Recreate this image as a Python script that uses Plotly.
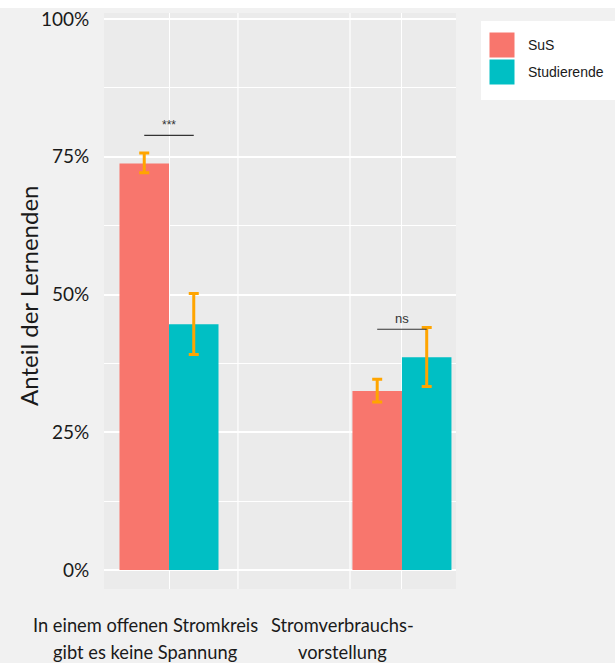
import plotly.graph_objects as go

# ---------------- data ----------------
categories = ["In einem offenen Stromkreis<br>gibt es keine Spannung",
              "Stromverbrauchs-<br>vorstellung"]
groups = ["SuS", "Studierende"]
sus_values = [73.8, 32.5]
sus_err_plus = [1.9, 2.1]
sus_err_minus = [1.7, 2.0]
stud_values = [44.6, 38.6]
stud_err_plus = [5.6, 5.4]
stud_err_minus = [5.5, 5.3]
sig_labels = ["***", "ns"]
sig_heights = [78.9, 43.7]
y_tickvals = [0, 25, 50, 75, 100]
y_ticktext = ["0%", "25%", "50%", "75%", "100%"]
y_title = "Anteil der Lernenden"

colors = {"SuS": "#F8766D", "Studierende": "#00BFC4"}
err_color = "#FFA500"
txt_color = "#1a1a1a"

W, H = 615, 663
ML, MR, MT, MB = 104, 159, 13, 74
PW, PH = W - ML - MR, H - MT - MB

def px_x(x):
    return (x - ML) / PW

def px_y(y):
    return (H - MB - y) / PH

BARGAP = 0.575
bar_w = (1 - BARGAP) / 2

fig = go.Figure()
fig.add_trace(go.Bar(
    x=categories, y=sus_values, name="SuS", marker_color=colors["SuS"],
    marker_line_width=0,
    error_y=dict(type="data", array=sus_err_plus, arrayminus=sus_err_minus,
                 color=err_color, thickness=3, width=5),
    showlegend=False))
fig.add_trace(go.Bar(
    x=categories, y=stud_values, name="Studierende", marker_color=colors["Studierende"],
    marker_line_width=0,
    error_y=dict(type="data", array=stud_err_plus, arrayminus=stud_err_minus,
                 color=err_color, thickness=3, width=5),
    showlegend=False))

shapes = []
annotations = []

# extra vertical white gridlines (as in the reference)
for xv in [0.296, 0.777]:
    shapes.append(dict(type="line", xref="x", yref="paper", x0=xv, x1=xv, y0=0, y1=1,
                       line=dict(color="white", width=1.2), layer="below"))

# significance brackets
for i, (lab, h) in enumerate(zip(sig_labels, sig_heights)):
    shapes.append(dict(type="line", xref="x", yref="y",
                       x0=i - bar_w / 2, x1=i + bar_w / 2, y0=h, y1=h,
                       line=dict(color="#333333", width=1.2)))
    annotations.append(dict(x=i, y=h, xref="x", yref="y", text=lab, showarrow=False,
                            yanchor="bottom", yshift=1,
                            font=dict(family="Liberation Sans", size=12 if lab == "***" else 13,
                                      color="#333333")))

# category labels (placed as in the reference picture)
label_centers_px = [145, 342]
line_centers_px = [625, 652]
for cat, cx in zip(categories, label_centers_px):
    for line, cy in zip(cat.split("<br>"), line_centers_px):
        annotations.append(dict(x=px_x(cx), y=px_y(cy), xref="paper", yref="paper",
                                text=line, showarrow=False, xanchor="center", yanchor="middle",
                                font=dict(family="Lato", size=18.3, color=txt_color)))

# y-axis title
annotations.append(dict(x=px_x(28), y=px_y(296), xref="paper", yref="paper",
                        text=y_title, textangle=-90, showarrow=False,
                        xanchor="center", yanchor="middle",
                        font=dict(family="Lato", size=24, color=txt_color)))

# white strip at top
shapes.append(dict(type="rect", xref="paper", yref="paper",
                   x0=px_x(0), x1=px_x(W), y0=px_y(8), y1=px_y(0),
                   fillcolor="white", line_width=0, layer="below"))

# custom legend
shapes.append(dict(type="rect", xref="paper", yref="paper",
                   x0=px_x(481), x1=px_x(W + 2), y0=px_y(100), y1=px_y(21),
                   fillcolor="white", line_width=0))
for k, g in enumerate(groups):
    top = 32 + k * 27
    shapes.append(dict(type="rect", xref="paper", yref="paper",
                       x0=px_x(489), x1=px_x(515), y0=px_y(top + 26), y1=px_y(top),
                       fillcolor=colors[g], line=dict(color="white", width=1)))
    annotations.append(dict(x=px_x(526), y=px_y(top + 13), xref="paper", yref="paper",
                            text=g, showarrow=False, xanchor="left", yanchor="middle",
                            font=dict(family="Liberation Sans", size=14, color=txt_color)))

fig.update_layout(
    width=W, height=H,
    margin=dict(l=ML, r=MR, t=MT, b=MB, pad=0),
    paper_bgcolor="#F1F1F1",
    plot_bgcolor="#EBEBEB",
    barmode="group", bargap=BARGAP, bargroupgap=0,
    shapes=shapes, annotations=annotations,
    showlegend=False,
    font=dict(family="Lato", color=txt_color),
)
fig.update_xaxes(
    range=[-0.279, 1.232], showgrid=True, gridcolor="white", gridwidth=1.2,
    zeroline=False, showticklabels=False, ticks="", automargin=False,
    showline=False, fixedrange=True,
)
fig.update_yaxes(
    range=[-3.45, 101.1], tickvals=y_tickvals, ticktext=y_ticktext,
    showgrid=True, gridcolor="white", gridwidth=1.5,
    minor=dict(dtick=12.5, tick0=0, showgrid=True, gridcolor="white", gridwidth=0.7),
    zeroline=False, ticks="outside", ticklen=10, tickcolor="#F1F1F1",
    tickfont=dict(family="Lato", size=19, color=txt_color),
    automargin=False, showline=False,
)

fig.write_html("out.html")
